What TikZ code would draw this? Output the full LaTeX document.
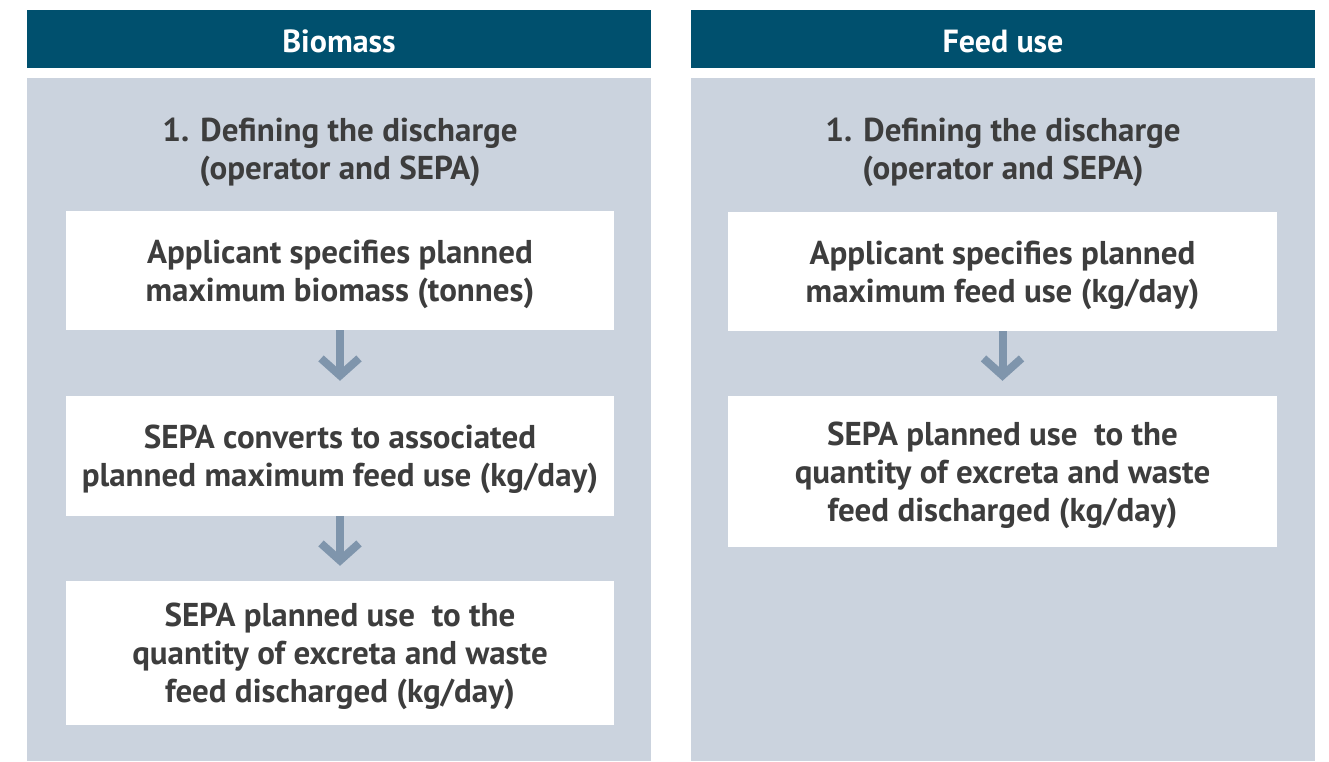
\documentclass[tikz,border=0pt]{standalone}
\usepackage{fontspec}
\setmainfont{PT Sans}
\usetikzlibrary{arrows.meta}
\definecolor{headblue}{HTML}{00506E}
\definecolor{panelgrey}{HTML}{CBD3DE}
\definecolor{arrowgrey}{HTML}{7F95AC}
\definecolor{textgrey}{HTML}{3D3D3D}

\begin{document}
\begin{tikzpicture}[x=1pt,y=-1pt,
    header/.style={fill=headblue,text=white,font=\bfseries\fontsize{32}{38}\selectfont,
        minimum width=624pt,minimum height=58pt,inner sep=0pt,text height=28pt,text depth=2pt},
    panel/.style={fill=panelgrey,minimum width=624pt,minimum height=683pt,inner sep=0pt},
    stage/.style={text=textgrey,align=center,font=\bfseries\fontsize{33}{38}\selectfont},
    stepbox/.style={fill=white,text=textgrey,align=center,inner sep=0pt,text depth=-7pt,
        minimum width=548pt,font=\bfseries\fontsize{33}{38}\selectfont},
    flow/.style={arrowgrey,line width=8pt,shorten >=15pt,
        -{Straight Barb[length=17pt,width=38pt,line width=8pt]}}]
\useasboundingbox (0,0) rectangle (1329,761);

% left column
\node[header] (hbio) at (339,39) {Biomass};
\node[panel] (pbio) at (339,419.5) {};
\node[stage] (sbio) at (340,152) {1. Defining the discharge\\(operator and SEPA)};
\node[stepbox,minimum height=119pt] (bio1) at (340,270.5) {Applicant specifies planned\\maximum biomass (tonnes)};
\node[stepbox,minimum height=120pt] (bio2) at (340,456) {SEPA converts to associated\\planned maximum feed use (kg/day)};
\node[stepbox,minimum height=144pt] (bio3) at (340,653) {SEPA planned use\ \ to the\\quantity of excreta and waste\\feed discharged (kg/day)};

% right column
\node[header] (hfeed) at (1003,39) {Feed use};
\node[panel] (pfeed) at (1003,419.5) {};
\node[stage] (sfeed) at (1003,152) {1. Defining the discharge\\(operator and SEPA)};
\node[stepbox,minimum width=549pt,minimum height=119pt] (feed1) at (1002.5,271.5) {Applicant specifies planned\\maximum feed use (kg/day)};
\node[stepbox,minimum width=549pt,minimum height=151pt] (feed2) at (1002.5,471.5) {SEPA planned use\ \ to the\\quantity of excreta and waste\\feed discharged (kg/day)};

\draw[flow] (bio1) -- (bio2);
\draw[flow] (bio2) -- (bio3);
\draw[flow] (feed1) -- (feed2);
\end{tikzpicture}
\end{document}
